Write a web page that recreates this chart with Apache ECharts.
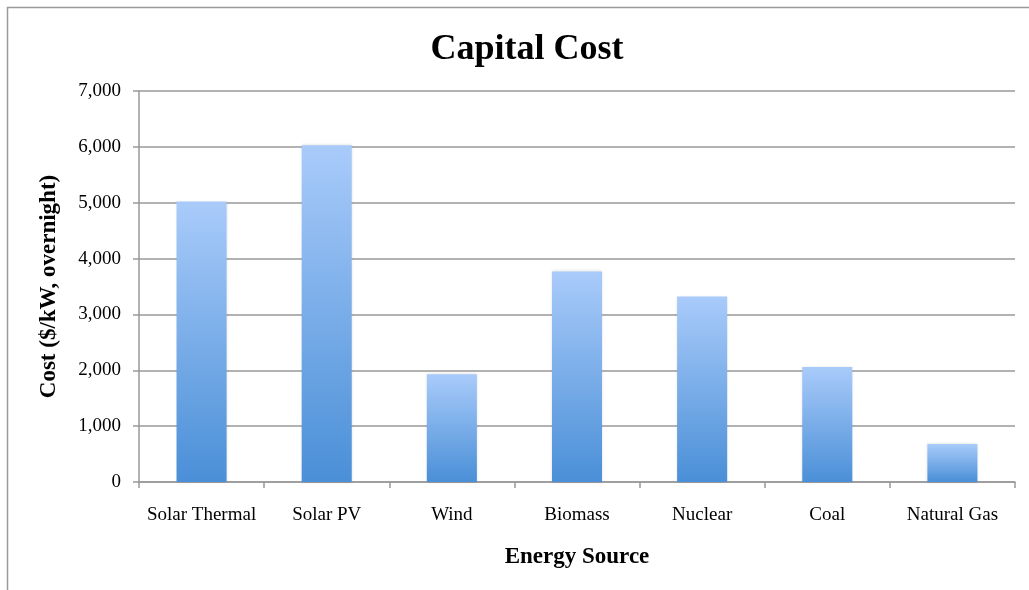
<!DOCTYPE html>
<html>
<head>
<meta charset="utf-8">
<script src="https://cdn.jsdelivr.net/npm/echarts@6/dist/echarts.min.js"></script>
<style>
html,body{margin:0;padding:0;background:#fff;}
#c{width:1029px;height:590px;}
</style>
</head>
<body>
<div id="c"></div>
<script>
const categories = ['Solar Thermal', 'Solar PV', 'Wind', 'Biomass', 'Nuclear', 'Coal', 'Natural Gas'];
const costValues = [5020, 6030, 1930, 3770, 3320, 2060, 680];
const yTicks = [0, 1000, 2000, 3000, 4000, 5000, 6000, 7000];

const chart = echarts.init(document.getElementById('c'));
const serif = '"Liberation Serif", "Times New Roman", serif';
chart.setOption({
  animation: false,
  backgroundColor: '#fff',
  graphic: [{
    type: 'rect',
    shape: { x: 7.5, y: 7.5, width: 1100, height: 700 },
    style: { fill: 'none', stroke: '#9a9a9a', lineWidth: 1.5 },
    silent: true
  }],
  title: {
    text: 'Capital Cost',
    left: 522,
    textAlign: 'center',
    top: 27,
    textStyle: { fontFamily: serif, fontSize: 36, fontWeight: 'bold', color: '#000' }
  },
  grid: { left: 139, right: 14, top: 91, bottom: 108 },
  xAxis: {
    type: 'category',
    data: categories,
    name: 'Energy Source',
    nameLocation: 'middle',
    nameGap: 64,
    nameTextStyle: { fontFamily: serif, fontSize: 23, fontWeight: 'bold', color: '#000' },
    axisLine: { lineStyle: { color: '#999', width: 1.5 } },
    axisTick: { show: true, interval: 0, alignWithLabel: false, length: 6, lineStyle: { color: '#999', width: 1.5 } },
    axisLabel: { interval: 0, fontFamily: serif, fontSize: 19, color: '#000', margin: 24 }
  },
  yAxis: {
    type: 'value',
    min: 0,
    max: 7000,
    interval: 1000,
    name: 'Cost ($/kW, overnight)',
    nameLocation: 'middle',
    nameGap: 78,
    nameTextStyle: { fontFamily: serif, fontSize: 23, fontWeight: 'bold', color: '#000' },
    axisLine: { show: true, lineStyle: { color: '#999', width: 1.5 } },
    axisTick: { show: true, length: 6, lineStyle: { color: '#999', width: 1.5 } },
    splitLine: { lineStyle: { color: '#999', width: 1.5 } },
    axisLabel: {
      fontFamily: serif, fontSize: 19, color: '#000', margin: 18, padding: [4, 0, 0, 0],
      formatter: v => yTicks.includes(v) ? v.toLocaleString('en-US') : ''
    }
  },
  series: [{
    type: 'bar',
    data: costValues,
    barWidth: '40%',
    itemStyle: {
      color: new echarts.graphic.LinearGradient(0, 0, 0, 1, [
        { offset: 0, color: '#a9cbfa' },
        { offset: 1, color: '#4a8fd7' }
      ]),
      shadowColor: 'rgba(0,0,0,0.15)',
      shadowBlur: 3
    }
  }]
});
</script>
</body>
</html>
